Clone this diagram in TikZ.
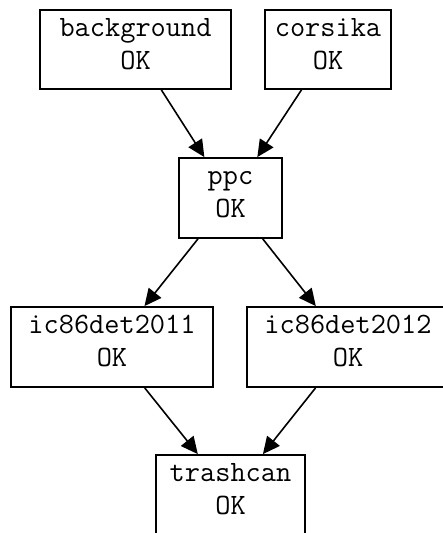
\documentclass[tikz,border=0pt]{standalone}
\usetikzlibrary{arrows.meta}
\begin{document}
\begin{tikzpicture}[x=1pt,y=-1pt,
  box/.style={draw=black,line width=1.8pt,inner sep=0pt,align=center,
    font=\ttfamily\fontsize{29.5}{33}\selectfont},
  conn/.style={line width=1.6pt,-{Triangle[length=17pt,width=16pt]}}]
\fill[white] (0,0) rectangle (443,533);
\clip (0,0) rectangle (443,533);
\newcommand{\twol}[1]{#1\rule{0pt}{22pt}\\OK\rule[-16pt]{0pt}{16pt}}
\node[box,minimum width=191pt,minimum height=79pt] (bg) at (135.5,49.5) {\twol{background}};
\node[box,minimum width=126pt,minimum height=79pt] (cors) at (328,49.5) {\twol{corsika}};
\node[box,minimum width=103pt,minimum height=80pt] (ppc) at (230.5,198) {\twol{ppc}};
\node[box,minimum width=202pt,minimum height=80pt] (ic11) at (112,347) {\twol{ic86det2011}};
\node[box,minimum width=202pt,minimum height=80pt] (ic12) at (348,347) {\twol{ic86det2012}};
\node[box,minimum width=149pt,minimum height=80pt] (trash) at (230.5,495) {\twol{trashcan}};
\draw[conn] (bg) -- (ppc);
\draw[conn] (cors) -- (ppc);
\draw[conn] (ppc) -- (ic11);
\draw[conn] (ppc) -- (ic12);
\draw[conn] (ic11) -- (trash);
\draw[conn] (ic12) -- (trash);
\end{tikzpicture}
\end{document}
